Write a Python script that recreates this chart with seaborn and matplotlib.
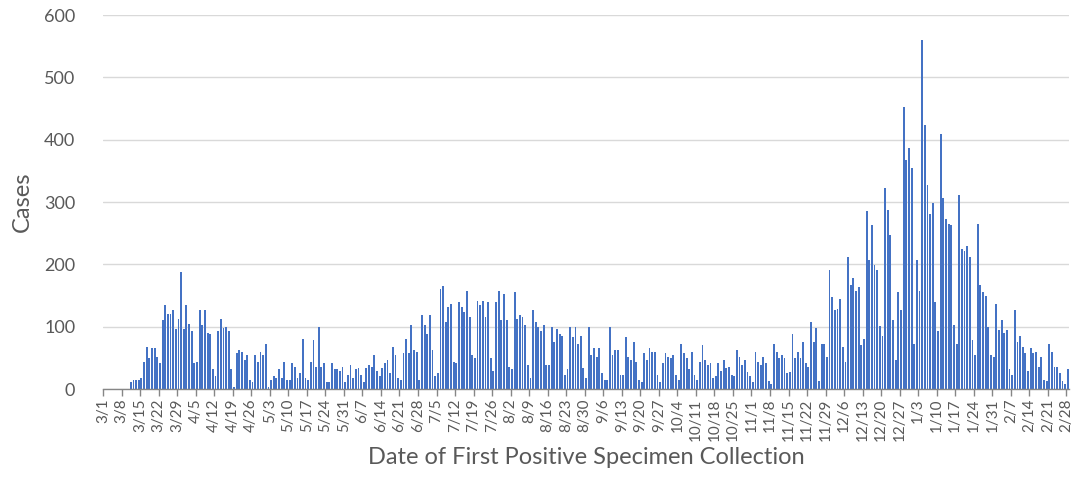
import pandas as pd
import matplotlib.pyplot as plt
import seaborn as sns

# casos diarios, 3/1/2020 ate 2/28/2021
cases = [
    0, 0, 0, 0, 0, 0, 0, 0, 0, 0,
    11, 14, 15, 14, 18, 44, 67, 49, 65, 65, 52, 41, 111, 134, 121, 121, 126, 96, 113, 188,
    96, 134, 105, 93, 41, 44, 126, 103, 126, 90, 88, 32, 21, 93, 113, 98, 100, 93, 32, 3,
    57, 62, 60, 46, 54, 14, 11, 54, 44, 60,
    54, 72, 3, 14, 21, 18, 32, 18, 44, 15, 14, 41, 36, 18, 26, 80, 18, 15, 44, 78,
    36, 100, 36, 41, 11, 11, 41, 32, 32, 29, 36,
    11, 23, 39, 18, 32, 34, 23, 11, 34, 39, 36, 54, 29, 21, 34, 41, 46, 26, 67, 54,
    18, 14, 57, 80, 57, 103, 62, 60, 14, 119,
    103, 88, 119, 62, 21, 26, 160, 165, 108, 132, 136, 44, 41, 139, 132, 124, 157, 116, 54, 49,
    142, 134, 142, 116, 139, 49, 29, 139, 157, 111,
    152, 111, 36, 32, 155, 113, 119, 116, 103, 39, 18, 126, 108, 100, 93, 103, 39, 39, 100, 75,
    96, 88, 85, 23, 32, 100, 83, 100, 72, 85, 34,
    18, 100, 54, 65, 52, 65, 26, 14, 15, 100, 54, 62, 62, 23, 23, 83, 52, 46, 75, 44,
    14, 11, 57, 46, 65, 60, 60, 23, 11, 41,
    57, 52, 49, 54, 23, 14, 72, 57, 49, 32, 60, 23, 14, 44, 70, 46, 39, 41, 18, 21,
    41, 29, 46, 34, 36, 23, 21, 62, 52, 39,
    46, 28, 21, 11, 59, 44, 38, 52, 41, 13, 8, 72, 59, 49, 54, 49, 26, 28, 88, 49,
    59, 49, 75, 41, 36, 108, 75, 98, 13, 72,
    72, 51, 191, 147, 126, 129, 144, 67, 44, 211, 167, 178, 157, 163, 70, 80, 286, 207, 263, 199,
    191, 101, 85, 322, 288, 247, 111, 47, 155, 126, 453,
    368, 386, 355, 73, 207, 157, 560, 424, 327, 280, 298, 139, 93, 409, 306, 273, 265, 263, 103, 73,
    311, 224, 221, 229, 211, 78, 54, 265, 167, 155,
    149, 100, 54, 52, 136, 95, 111, 90, 95, 32, 23, 126, 75, 85, 67, 57, 29, 65, 57, 59,
    36, 52, 15, 13, 72, 59, 36, 35, 26, 13, 8, 32,
]

# rotulos do eixo x (um a cada 7 dias)
week_labels = ['3/1', '3/8', '3/15', '3/22', '3/29', '4/5', '4/12', '4/19', '4/26', '5/3',
               '5/10', '5/17', '5/24', '5/31', '6/7', '6/14', '6/21', '6/28', '7/5', '7/12',
               '7/19', '7/26', '8/2', '8/9', '8/16', '8/23', '8/30', '9/6', '9/13', '9/20',
               '9/27', '10/4', '10/11', '10/18', '10/25', '11/1', '11/8', '11/15', '11/22',
               '11/29', '12/6', '12/13', '12/20', '12/27', '1/3', '1/10', '1/17', '1/24',
               '1/31', '2/7', '2/14', '2/21', '2/28']

df = pd.DataFrame({'dia': range(len(cases)), 'cases': cases})

sns.set_theme(style="white")
plt.rcParams['font.family'] = ['Lato', 'DejaVu Sans']

fig = plt.figure(figsize=(10.71, 4.96), dpi=100)
ax = fig.add_axes([0.0962, 0.2157, 0.902, 0.754])
ax.set_axisbelow(True)

sns.barplot(data=df, x='dia', y='cases', color='#4472C4', saturation=1,
            width=0.7, linewidth=0, ax=ax)

ax.set_xlim(-0.5, len(cases) - 0.5)
ax.set_ylim(0, 600)
ax.set_yticks(range(0, 601, 100))
ax.yaxis.grid(True, color='#D9D9D9', linewidth=1)
ax.tick_params(axis='y', length=0, labelsize=13, labelcolor='#595959', pad=20)

ax.set_xticks([i * 7 - 0.5 for i in range(len(week_labels))])
ax.set_xticklabels(week_labels, rotation=90, fontsize=11, color='#595959')
ax.tick_params(axis='x', bottom=True, length=5, width=1, color='#868686', pad=2)

for s in ['left', 'right', 'top']:
    ax.spines[s].set_visible(False)
ax.spines['bottom'].set_color('#868686')
ax.spines['bottom'].set_linewidth(1)

ax.set_ylabel('Cases', fontsize=17, color='#595959', labelpad=8)
ax.set_xlabel('Date of First Positive Specimen Collection', fontsize=17, color='#595959')
ax.xaxis.set_label_coords(0.5, -0.155)

plt.savefig('out.png', dpi=100)
